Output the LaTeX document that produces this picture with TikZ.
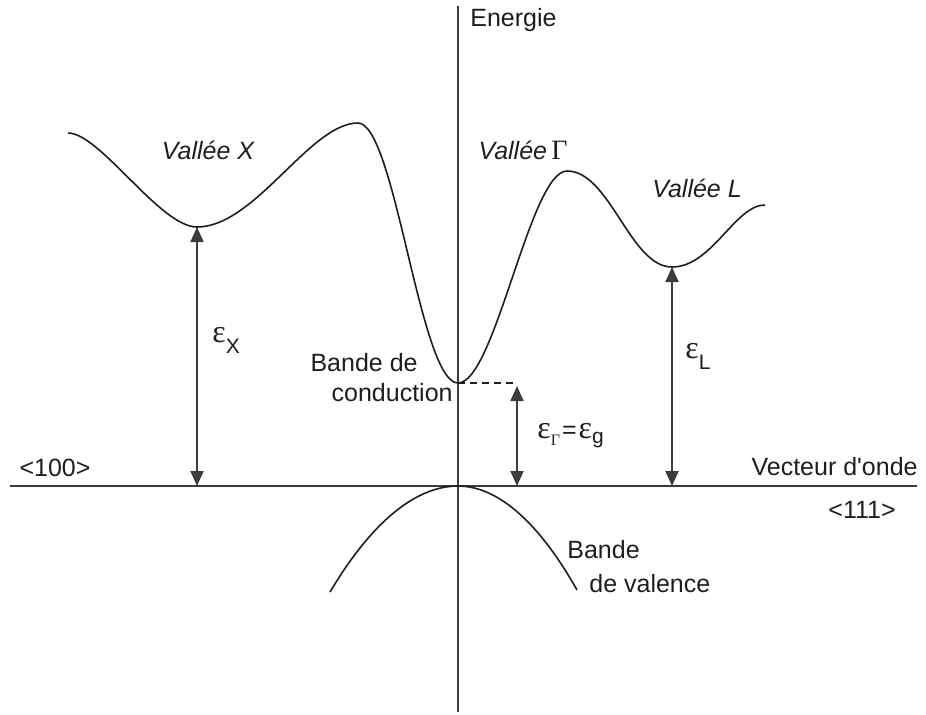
\documentclass[tikz,border=0pt]{standalone}
\usepackage{fontspec}
\setmainfont{Liberation Sans}
\newfontfamily\grkfont{Liberation Serif}
\usetikzlibrary{arrows.meta,positioning}
\definecolor{Ink}{HTML}{1E1E1E}
\definecolor{AxisGray}{HTML}{3C3C3C}
\newcommand{\eps}{{\fontsize{16}{16}\grkfont ε}}
\newcommand{\lowsub}[2][-5.5pt]{\raisebox{#1}{\fontsize{10.5}{12}\selectfont #2}}

\begin{document}
\begin{tikzpicture}[
  x=0.5pt, y=-0.5pt,
  axis/.style={draw=AxisGray, line width=1.1pt},
  band/.style={draw=Ink, line width=0.8pt},
  gap/.style={draw=AxisGray, line width=0.9pt,
    {Triangle[length=7.5pt,width=6.5pt]}-{Triangle[length=7.5pt,width=6.5pt]}},
  lbl/.style={inner sep=0pt, text=Ink, font=\fontsize{12.5}{15}\selectfont}
]
\useasboundingbox (0,0) rectangle (926,714);

% axes
\coordinate (ktop) at (458,6);
\coordinate (kbot) at (458,712);
\coordinate (kleft) at (10,486);
\coordinate (kright) at (917,486);
\draw[axis] (ktop) -- (kbot);
\draw[axis] (kleft) -- (kright);

% valley minima
\coordinate (minX) at (197,227);
\coordinate (minG) at (458,383);
\coordinate (minL) at (672,267);
\coordinate (gapG) at (517,383);

% conduction band
\draw[band] (68,133) .. controls (100,133) and (160,227) .. (minX)
  .. controls (255,227) and (310,123) .. (358,123)
  .. controls (395,123) and (420,383) .. (minG)
  .. controls (495,383) and (530,171) .. (567,171)
  .. controls (610,171) and (630,267) .. (minL)
  .. controls (712,267) and (735,205) .. (765,205);

% valence band
\draw[band] (330,592) parabola bend (458,486) (577,590);

% gaps
\draw[band, line width=0.7pt, dash pattern=on 3.5pt off 2.5pt] (minG) -- (gapG);
\draw[gap] (minX) -- (minX |- kleft);
\draw[gap] ([yshift=-1.5pt]gapG) -- (gapG |- kleft);
\draw[gap] (minL) -- (minL |- kleft);

% labels
\node[lbl, anchor=west] (energie) at (470,20) {Energie};
\node[lbl, font=\fontsize{12.5}{15}\selectfont\itshape] (valX) at (208,150) {Vallée X};
\node[lbl] (valG) at (523,150) {\itshape Vallée\,{\upshape\fontsize{14}{14}\grkfont Γ}};
\node[lbl, font=\fontsize{12.5}{15}\selectfont\itshape] (valL) at (697,188) {Vallée L};
\node[lbl, align=right, anchor=east] (bandc) at (453,378) {Bande de\kern17.5pt\\conduction};
\node[lbl, align=left, anchor=west, font=\fontsize{12.5}{17}\selectfont] (bandv) at (567,567) {Bande\\ \kern11pt de valence};
\node[lbl] (dir100) at (55,468) {<100>};
\node[lbl, anchor=east] (vecteur) at (918,467) {Vecteur d\textquotesingle onde};
\node[lbl] (dir111) at (862,510) {<111>};

\node[lbl, anchor=base west] (epsX) at (212,342) {\eps\lowsub{X}};
\node[lbl, anchor=base west] (epsL) at (685,358) {\eps\lowsub{L}};
\node[lbl, anchor=base west] (epsG) at (537,438)
  {\eps\raisebox{-3.5pt}{\fontsize{8}{8}\grkfont Γ}\kern1pt=\kern1pt\eps\lowsub[-2.5pt]{g}};
\end{tikzpicture}
\end{document}
